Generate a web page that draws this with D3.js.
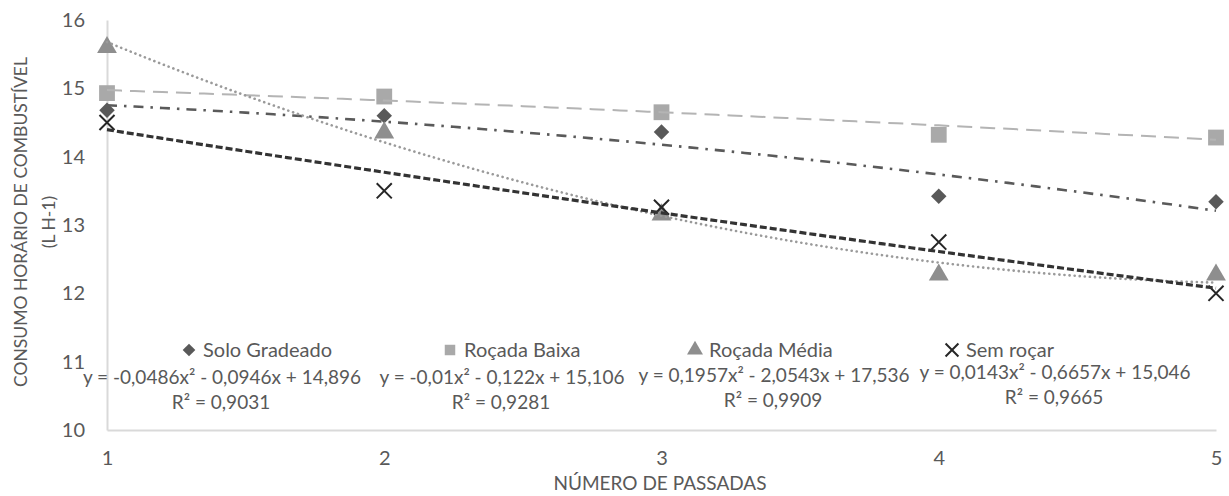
<!DOCTYPE html>
<html>
<head>
<meta charset="utf-8">
<script src="https://cdn.jsdelivr.net/npm/d3@7"></script>
<style>
  body { margin: 0; background: #fff; }
  svg text { font-family: Lato, "Open Sans", sans-serif; fill: #595959; }
</style>
</head>
<body>
<div id="chart"></div>
<script>
// passadas on the x axis
const passadas = [1, 2, 3, 4, 5]
const yTicks = [10, 11, 12, 13, 14, 15, 16]

const seriesNames = ["Solo Gradeado", "Roçada Baixa", "Roçada Média", "Sem roçar"]
const soloGradeado = [14.68, 14.6, 14.36, 13.42, 13.34]
const rocadaBaixa = [14.93, 14.88, 14.65, 14.32, 14.28]
const rocadaMedia = [15.6, 14.35, 13.15, 12.27, 12.27]
const semRocar = [14.5, 13.5, 13.26, 12.75, 12.0]

// polynomial trendline coefficients (a, b, c) as printed on the chart
const trendSolo = [-0.0486, -0.0946, 14.896]
const trendBaixa = [-0.01, -0.122, 15.106]
const trendMedia = [0.1957, -2.0543, 17.536]
const trendSem = [0.0143, -0.6657, 15.046]

const equationLabels = [
    "y = -0,0486x² - 0,0946x + 14,896",
    "y = -0,01x² - 0,122x + 15,106",
    "y = 0,1957x² - 2,0543x + 17,536",
    "y = 0,0143x² - 0,6657x + 15,046"
]
const r2Labels = ["R² = 0,9031", "R² = 0,9281", "R² = 0,9909", "R² = 0,9665"]

const width = 1229, height = 496
const margin = {left: 107, right: 13, top: 20, bottom: 66}

const svg = d3.select("#chart").append("svg")
    .attr("width", width)
    .attr("height", height)

const x = d3.scaleLinear().domain([1, 5]).range([margin.left, width - margin.right])
const y = d3.scaleLinear().domain([10, 16]).range([height - margin.bottom, margin.top])

// axes
const yAxis = svg.append("g")
    .attr("transform", `translate(${margin.left},0)`)
    .call(d3.axisLeft(y).tickValues(yTicks).tickFormat(d3.format("d")).tickSize(0).tickPadding(22))
yAxis.select(".domain").attr("stroke", "#d9d9d9").attr("stroke-width", 2)
yAxis.selectAll("text").style("font-size", "20px").attr("fill", "#595959")

const xAxis = svg.append("g")
    .attr("transform", `translate(0,${y(10)})`)
    .call(d3.axisBottom(x).tickValues(passadas).tickFormat(d3.format("d")).tickSize(0).tickPadding(21))
xAxis.select(".domain").attr("stroke", "#d9d9d9").attr("stroke-width", 2)
xAxis.selectAll("text").style("font-size", "20px").attr("fill", "#595959")

svg.append("text")
    .attr("x", 660)
    .attr("y", 490)
    .attr("text-anchor", "middle")
    .style("font-size", "19px")
    .text("NÚMERO DE PASSADAS")

const yTitle = svg.append("text")
    .attr("transform", "translate(27,222) rotate(-90)")
    .attr("text-anchor", "middle")
    .style("font-size", "17.5px")
yTitle.append("tspan").attr("x", 0).attr("dy", 0).text("CONSUMO HORÁRIO DE COMBUSTÍVEL")
yTitle.append("tspan").attr("x", 0).attr("dy", 28).text("(L H-1)")

const series = [
    {name: seriesNames[0], values: soloGradeado, coef: trendSolo, color: "#595959", lineColor: "#5a5a5a", symbol: d3.symbolSquare, rot: 45, size: 120, dash: "10,7,2.5,7", lw: 2.6, cap: "butt"},
    {name: seriesNames[1], values: rocadaBaixa, coef: trendBaixa, color: "#a9a9a9", lineColor: "#b4b4b4", symbol: d3.symbolSquare, rot: 0, size: 250, dash: "15,8", lw: 2, cap: "butt"},
    {name: seriesNames[2], values: rocadaMedia, coef: trendMedia, color: "#8e8e8e", lineColor: "#9a9a9a", symbol: d3.symbolTriangle, rot: 0, size: 170, dash: "0.1,5", lw: 2.6, cap: "round"},
    {name: seriesNames[3], values: semRocar, coef: trendSem, color: "#262626", lineColor: "#333333", symbol: d3.symbolX, rot: 0, size: 150, dash: "7,3", lw: 3.2, cap: "butt"}
]

const line = d3.line().x(d => x(d[0])).y(d => y(d[1]))
const xs = d3.range(1, 5.0001, 0.05)

// markers first, trendlines drawn over them like the source
series.forEach(s => {
    svg.append("g").selectAll("path")
        .data(s.values)
        .join("path")
        .attr("transform", (d, i) => `translate(${x(passadas[i])},${y(d)}) rotate(${s.rot})`)
        .attr("d", d3.symbol().type(s.symbol).size(s.size))
        .attr("fill", s.symbol === d3.symbolX ? "none" : s.color)
        .attr("stroke", s.symbol === d3.symbolX ? s.color : "none")
        .attr("stroke-width", 2)
})

series.forEach(s => {
    const pts = xs.map(v => [v, s.coef[0] * v * v + s.coef[1] * v + s.coef[2]])
    svg.append("path")
        .datum(pts)
        .attr("d", line)
        .attr("fill", "none")
        .attr("stroke", s.lineColor)
        .attr("stroke-width", s.lw)
        .attr("stroke-dasharray", s.dash)
        .attr("stroke-linecap", s.cap)
})

// legend
const legendX = [189, 450, 695, 952]
const legend = svg.append("g")
series.forEach((s, i) => {
    const g = legend.append("g").attr("transform", `translate(${legendX[i]},350)`)
    g.append("path")
        .attr("transform", `rotate(${s.rot})`)
        .attr("d", d3.symbol().type(s.symbol).size(s.symbol === d3.symbolX ? 110 : (s.rot ? 80 : 110)))
        .attr("fill", s.symbol === d3.symbolX ? "none" : s.color)
        .attr("stroke", s.symbol === d3.symbolX ? s.color : "none")
        .attr("stroke-width", 2)
    g.append("text")
        .attr("x", 14)
        .attr("y", 7)
        .style("font-size", "20px")
        .text(s.name)
})

// equations
const eqX = [222, 502, 774, 1055]
const eqY = [384, 384, 382, 379]
equationLabels.forEach((t, i) => {
    svg.append("text")
        .attr("x", eqX[i]).attr("y", eqY[i])
        .attr("text-anchor", "middle")
        .style("font-size", "19px")
        .text(t)
    svg.append("text")
        .attr("x", eqX[i] - 1).attr("y", eqY[i] + 25)
        .attr("text-anchor", "middle")
        .style("font-size", "19px")
        .text(r2Labels[i])
})
</script>
</body>
</html>
